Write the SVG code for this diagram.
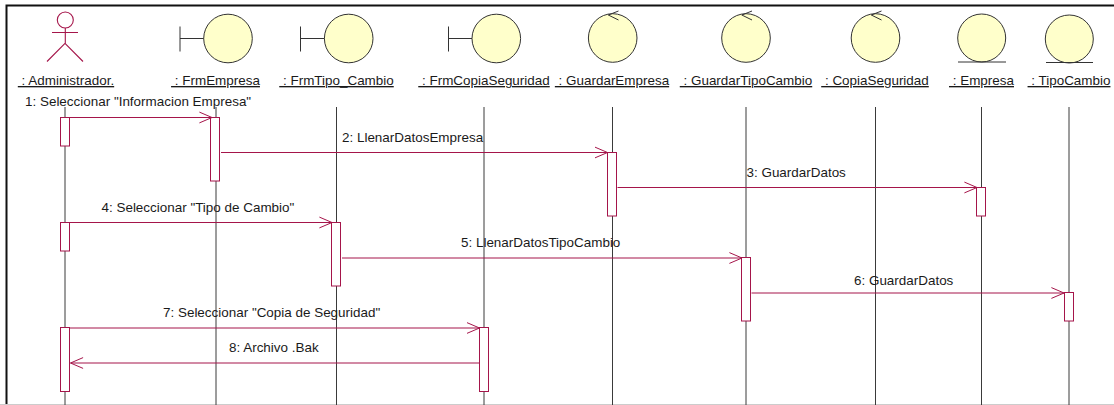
<svg xmlns="http://www.w3.org/2000/svg" width="1114" height="405" viewBox="0 0 1114 405">
<defs>
<marker id="open" markerUnits="userSpaceOnUse" markerWidth="14" markerHeight="14" refX="13" refY="7" orient="auto" viewBox="0 0 14 14"><path d="M0.400 1.600L13 7L0.400 12.400" fill="none" stroke="#a5154a" stroke-width="1"/></marker>
</defs>
<style>
text{font-family:"Liberation Sans",Arial,sans-serif;font-size:13.45px;fill:#1a1a1a;white-space:pre}
.n{text-anchor:middle;text-decoration:underline}
.ll{stroke:#3a3a3a;stroke-width:1;fill:none}
.act{fill:#fff;stroke:#a5154a;stroke-width:1}
.msg{stroke:#a5154a;stroke-width:1;fill:none;marker-end:url(#open)}
.ent{fill:#ffffcb;stroke:#333;stroke-width:1}
.sym{fill:none;stroke:#333;stroke-width:1}
.actor{fill:none;stroke:#a5154a;stroke-width:1.100}
</style>
<rect width="1114" height="405" fill="#fff"/>
<path d="M6.500 404V5.500H1114" fill="none" stroke="#111" stroke-width="2"/>
<path d="M0 404.500H1114" stroke="#ccc" stroke-width="1"/>
<g id="lifelines">
<path class="ll" d="M65 107V405M216 107V405M336.500 107V405M484 107V405M612.500 107V405M746 107V405M875.500 107V405M981.500 107V405M1069 107V405"/>
</g>
<g id="n-administrador"><circle class="actor" cx="65.300" cy="20" r="8"/><path class="actor" d="M65.300 28V43.300M52 32.500H78M65 43.300L47 61.500M65 43.300L83 61.500"/><text class="n" x="66" y="85"> : Administrador.</text></g>
<g id="n-frmempresa"><path class="sym" d="M180 26.500V51.500M180 38.500H204"/><circle class="ent" cx="228" cy="38.500" r="24.300"/><text class="n" x="215.500" y="85"> : FrmEmpresa</text></g>
<g id="n-frmtipo"><path class="sym" d="M300.500 26.500V51.500M300.500 38.500H325"/><circle class="ent" cx="348.700" cy="38.500" r="24.300"/><text class="n" x="336.500" y="85"> : FrmTipo_Cambio</text></g>
<g id="n-frmcopia"><path class="sym" d="M448.500 26.500V51.500M448.500 38.500H472"/><circle class="ent" cx="496.300" cy="38.500" r="24.300"/><text class="n" x="484" y="85"> : FrmCopiaSeguridad</text></g>
<g id="n-guardarempresa"><circle class="ent" cx="612.700" cy="38" r="24.300"/><path class="sym" d="M618.500 11L608.300 15L618.500 20"/><text class="n" x="612" y="85"> : GuardarEmpresa</text></g>
<g id="n-guardartipo"><circle class="ent" cx="746" cy="38" r="24.300"/><path class="sym" d="M752 11L741.800 15L752 20"/><text class="n" x="746" y="85"> : GuardarTipoCambio</text></g>
<g id="n-copia"><circle class="ent" cx="875.500" cy="38" r="24.300"/><path class="sym" d="M881.500 11L871.300 15L881.500 20"/><text class="n" x="875" y="85"> : CopiaSeguridad</text></g>
<g id="n-empresa"><circle class="ent" cx="981.700" cy="38" r="24"/><path class="sym" d="M958 62H1006"/><text class="n" x="981.500" y="85"> : Empresa</text></g>
<g id="n-tipocambio"><circle class="ent" cx="1069.300" cy="39" r="24"/><path class="sym" d="M1046 62.500H1093"/><text class="n" x="1069" y="85"> : TipoCambio</text></g>
<g id="activations">
<rect class="act" x="60.500" y="117.500" width="9" height="28.500"/><rect class="act" x="210.500" y="117.500" width="9" height="63.500"/>
<rect class="act" x="607.500" y="152.500" width="9" height="63.500"/><rect class="act" x="976.500" y="187.500" width="9" height="28.500"/>
<rect class="act" x="60.500" y="222.500" width="9" height="28.500"/><rect class="act" x="331.500" y="222.500" width="9" height="63.500"/>
<rect class="act" x="741.500" y="257.500" width="9" height="63.500"/><rect class="act" x="1064.500" y="292.500" width="9" height="28.500"/>
<rect class="act" x="60.500" y="327.500" width="9" height="64"/><rect class="act" x="479.500" y="327.500" width="9" height="64"/>
</g>
<g id="connectors">
<path class="msg" d="M70 117.500H212"/><path class="msg" d="M221 152.500H607.500"/><path class="msg" d="M617.500 187.500H977"/>
<path class="msg" d="M70 222.500H332"/><path class="msg" d="M342 258H742"/><path class="msg" d="M751.500 293H1064"/>
<path class="msg" d="M70 328H479.500"/><path class="msg" d="M479.500 363H70.500"/>
</g>
<g id="labels">
<text x="25" y="106">1: Seleccionar "Informacion Empresa"</text>
<text x="342" y="142">2: LlenarDatosEmpresa</text>
<text x="746.500" y="177">3: GuardarDatos</text>
<text x="101.500" y="212">4: Seleccionar "Tipo de Cambio"</text>
<text x="461" y="247">5: LlenarDatosTipoCambio</text>
<text x="854" y="285">6: GuardarDatos</text>
<text x="163" y="317">7: Seleccionar "Copia de Seguridad"</text>
<text x="229" y="352">8: Archivo .Bak</text>
</g>
</svg>
